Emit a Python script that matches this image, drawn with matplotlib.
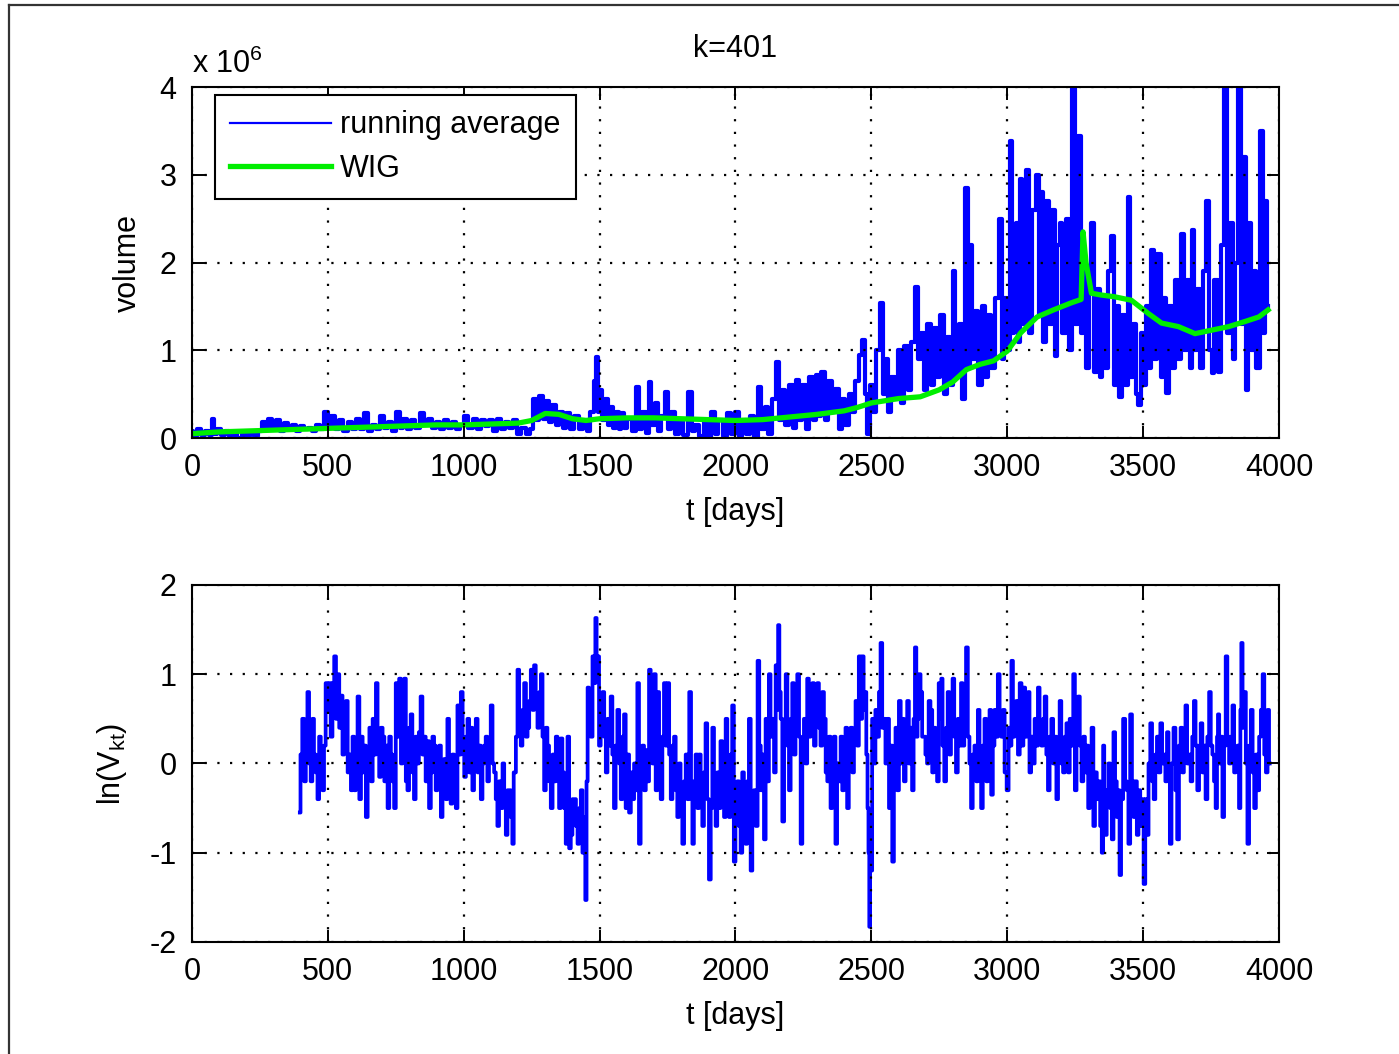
import matplotlib
matplotlib.use('Agg')
import matplotlib.pyplot as plt
from matplotlib.lines import Line2D

plt.rcParams['font.family'] = ['Liberation Sans', 'DejaVu Sans']
plt.rcParams['mathtext.fontset'] = 'custom'
plt.rcParams['mathtext.rm'] = 'Liberation Sans'
plt.rcParams['axes.unicode_minus'] = False

# running average of volume, (day, volume in 1e6)
volume_points = [
    (0, 0.08), (10, 0.02), (25, 0.1), (40, 0.03), (55, 0.08), (70, 0.04), (78, 0.22), (85, 0.05), (100, 0.1),
    (115, 0.03), (130, 0.08), (145, 0.02), (160, 0.06), (175, 0.0), (190, 0.05), (205, 0.02), (220, 0.06),
    (235, 0.02), (250, 0.08), (262, 0.18), (275, 0.1), (288, 0.22), (300, 0.12), (315, 0.2), (330, 0.08),
    (345, 0.17), (360, 0.1), (375, 0.15), (390, 0.08), (405, 0.14), (420, 0.1), (435, 0.12), (450, 0.08),
    (465, 0.15), (480, 0.1), (495, 0.3), (505, 0.12), (520, 0.25), (535, 0.1), (550, 0.2), (565, 0.08),
    (580, 0.18), (595, 0.1), (610, 0.22), (625, 0.1), (640, 0.28), (655, 0.08), (670, 0.15), (685, 0.1),
    (700, 0.25), (715, 0.12), (730, 0.18), (745, 0.08), (760, 0.3), (770, 0.12), (785, 0.22), (800, 0.1),
    (815, 0.2), (830, 0.12), (845, 0.28), (860, 0.15), (875, 0.22), (890, 0.12), (905, 0.18), (920, 0.1),
    (935, 0.2), (950, 0.12), (965, 0.18), (980, 0.1), (995, 0.15), (1010, 0.25), (1025, 0.12), (1040, 0.22),
    (1055, 0.1), (1070, 0.2), (1085, 0.14), (1100, 0.2), (1115, 0.08), (1130, 0.22), (1145, 0.1), (1160, 0.18),
    (1175, 0.12), (1190, 0.2), (1205, 0.05), (1220, 0.12), (1235, 0.05), (1250, 0.1), (1262, 0.45), (1272, 0.2),
    (1285, 0.48), (1295, 0.22), (1308, 0.42), (1320, 0.18), (1333, 0.38), (1345, 0.15), (1358, 0.3), (1370, 0.12),
    (1385, 0.28), (1400, 0.1), (1415, 0.25), (1430, 0.1), (1445, 0.2), (1460, 0.08), (1472, 0.3), (1485, 0.65),
    (1491, 0.92), (1498, 0.3), (1505, 0.55), (1515, 0.2), (1525, 0.45), (1535, 0.15), (1545, 0.35), (1555, 0.12),
    (1565, 0.3), (1575, 0.1), (1585, 0.28), (1595, 0.12), (1610, 0.22), (1625, 0.08), (1641, 0.58), (1650, 0.1),
    (1665, 0.3), (1675, 0.06), (1686, 0.64), (1695, 0.15), (1710, 0.4), (1720, 0.08), (1733, 0.25), (1747, 0.53),
    (1758, 0.1), (1770, 0.3), (1785, 0.05), (1800, 0.2), (1815, 0.03), (1836, 0.53), (1845, 0.08), (1860, 0.15),
    (1875, 0.02), (1890, 0.18), (1905, 0.0), (1917, 0.3), (1930, 0.05), (1945, 0.2), (1960, 0.02), (1975, 0.28),
    (1990, 0.05), (2005, 0.3), (2018, 0.02), (2030, 0.2), (2045, 0.05), (2060, 0.25), (2075, 0.0), (2090, 0.58),
    (2100, 0.1), (2115, 0.35), (2128, 0.05), (2142, 0.45), (2157, 0.87), (2165, 0.2), (2178, 0.55), (2190, 0.15),
    (2205, 0.6), (2218, 0.12), (2230, 0.66), (2240, 0.2), (2252, 0.6), (2265, 0.1), (2278, 0.7), (2290, 0.2),
    (2300, 0.72), (2311, 0.25), (2322, 0.75), (2335, 0.2), (2348, 0.65), (2360, 0.3), (2374, 0.56), (2385, 0.1),
    (2398, 0.45), (2410, 0.15), (2422, 0.5), (2435, 0.3), (2448, 0.65), (2458, 0.95), (2470, 1.12), (2480, 0.5),
    (2490, 0.05), (2500, 0.6), (2512, 0.3), (2525, 1.0), (2539, 1.54), (2548, 0.5), (2558, 0.9), (2568, 0.3),
    (2580, 0.7), (2592, 0.45), (2604, 1.0), (2615, 0.4), (2628, 1.05), (2640, 0.55), (2655, 1.1), (2668, 1.72),
    (2678, 0.9), (2690, 1.2), (2700, 0.55), (2712, 1.3), (2724, 0.6), (2736, 1.25), (2748, 0.7), (2760, 1.4),
    (2772, 0.5), (2784, 1.15), (2796, 0.6), (2803, 1.9), (2815, 0.7), (2828, 1.3), (2840, 0.45), (2852, 2.85),
    (2860, 0.8), (2865, 2.2), (2875, 0.9), (2888, 1.45), (2900, 0.6), (2912, 1.5), (2924, 0.7), (2936, 1.4),
    (2948, 0.8), (2962, 1.6), (2975, 2.5), (2985, 0.9), (2995, 1.6), (3005, 1.0), (3012, 3.38), (3020, 1.2),
    (3030, 2.0), (3037, 2.45), (3045, 1.1), (3052, 2.95), (3060, 1.3), (3075, 3.05), (3085, 1.2), (3098, 2.6),
    (3111, 3.0), (3120, 1.4), (3128, 2.8), (3138, 1.1), (3148, 2.7), (3158, 1.3), (3173, 2.6), (3180, 0.93),
    (3190, 2.2), (3198, 2.45), (3208, 1.2), (3222, 2.5), (3232, 1.0), (3247, 4.0), (3255, 1.3), (3266, 3.44),
    (3275, 1.2), (3285, 2.0), (3295, 0.8), (3305, 1.8), (3315, 2.45), (3325, 0.75), (3335, 1.7), (3345, 0.7),
    (3355, 1.6), (3365, 0.8), (3378, 1.9), (3389, 2.3), (3398, 0.6), (3408, 1.5), (3418, 0.47), (3428, 1.4),
    (3438, 0.6), (3449, 2.75), (3458, 0.7), (3468, 1.3), (3478, 0.5), (3486, 0.38), (3495, 1.2), (3505, 0.6),
    (3515, 1.5), (3525, 0.8), (3536, 2.14), (3545, 0.9), (3560, 2.1), (3570, 0.7), (3580, 1.6), (3590, 0.51),
    (3600, 1.5), (3612, 0.8), (3625, 1.8), (3635, 0.9), (3646, 2.33), (3656, 1.0), (3668, 1.8), (3676, 0.8),
    (3683, 2.37), (3693, 1.0), (3705, 1.7), (3715, 0.8), (3725, 1.9), (3738, 2.7), (3748, 1.0), (3757, 0.74),
    (3768, 1.8), (3781, 0.75), (3792, 2.2), (3806, 4.0), (3815, 1.2), (3825, 2.45), (3835, 0.9), (3845, 2.0),
    (3855, 4.0), (3862, 1.3), (3873, 3.2), (3882, 0.55), (3892, 2.45), (3902, 1.0), (3912, 1.9), (3922, 0.8),
    (3935, 3.5), (3945, 1.2), (3953, 2.7), (3960, 1.5),
]

# WIG index rescaled (day, value in 1e6)
wig_points = [
    (0, 0.05), (100, 0.07), (200, 0.08), (300, 0.09), (400, 0.1), (500, 0.11), (600, 0.12), (700, 0.13),
    (800, 0.14), (900, 0.15), (1000, 0.15), (1100, 0.16), (1200, 0.17), (1250, 0.2), (1300, 0.28), (1350, 0.27),
    (1400, 0.22), (1450, 0.2), (1500, 0.22), (1600, 0.23), (1700, 0.23), (1800, 0.22), (1900, 0.21), (2000, 0.2),
    (2100, 0.21), (2200, 0.24), (2300, 0.27), (2400, 0.31), (2450, 0.35), (2500, 0.4), (2600, 0.45), (2680, 0.47),
    (2750, 0.55), (2800, 0.64), (2850, 0.78), (2900, 0.84), (2950, 0.88), (3000, 0.99), (3050, 1.2),
    (3110, 1.38), (3170, 1.46), (3235, 1.54), (3272, 1.58), (3279, 2.35), (3290, 2.0), (3310, 1.65),
    (3346, 1.63), (3395, 1.61), (3457, 1.57), (3519, 1.42), (3568, 1.31), (3630, 1.27), (3691, 1.19),
    (3753, 1.23), (3815, 1.27), (3877, 1.33), (3926, 1.38), (3960, 1.46),
]

# ln(V_kt), (day, value)
ln_points = [
    (397, -0.55), (402, 0.1), (410, 0.5), (416, -0.2), (422, 0.3), (428, 0.8), (434, 0.0), (440, -0.2), (446, 0.5),
    (452, 0.1), (459, -0.1), (465, -0.4), (471, 0.3), (477, -0.1), (483, -0.3), (489, 0.2), (495, 0.9), (501, 0.6),
    (507, 0.9), (514, 0.3), (520, 0.9), (527, 1.2), (533, 0.5), (539, 1.0), (545, 0.4), (551, 0.76), (557, 0.1),
    (563, 0.5), (570, 0.7), (576, -0.1), (582, 0.1), (588, -0.3), (594, 0.3), (600, -0.3), (606, 0.2), (613, 0.75),
    (619, -0.4), (625, 0.3), (631, -0.1), (637, 0.2), (643, -0.6), (650, 0.0), (656, 0.4), (662, -0.2), (668, 0.5),
    (674, 0.1), (680, 0.9), (686, 0.2), (692, -0.15), (698, 0.4), (705, 0.3), (711, -0.2), (717, 0.2), (723, -0.5),
    (729, 0.3), (735, 0.1), (741, -0.2), (747, -0.5), (753, 0.9), (759, 0.3), (766, 0.95), (772, 0.0), (778, 0.6),
    (784, 0.95), (790, -0.2), (796, -0.3), (802, 0.4), (808, 0.55), (814, -0.1), (820, -0.4), (826, 0.3), (832, 0.0),
    (838, 0.35), (845, 0.75), (851, 0.1), (857, 0.3), (863, -0.2), (869, 0.25), (876, -0.5), (882, -0.1), (888, 0.3),
    (894, 0.2), (900, -0.3), (907, -0.1), (913, 0.2), (919, -0.6), (925, -0.1), (931, 0.05), (937, -0.4), (943, 0.5),
    (949, -0.1), (955, -0.45), (961, 0.1), (968, -0.3), (974, -0.5), (980, 0.65), (986, 0.1), (993, 0.8), (999, 0.2),
    (1005, -0.15), (1011, 0.3), (1017, 0.5), (1023, -0.1), (1029, 0.4), (1035, -0.3), (1041, 0.2), (1048, 0.5),
    (1054, -0.1), (1060, 0.2), (1066, -0.4), (1072, 0.0), (1078, 0.2), (1084, 0.3), (1090, -0.2), (1096, 0.1),
    (1103, 0.65), (1109, 0.0), (1115, -0.1), (1121, -0.4), (1127, -0.7), (1133, -0.2), (1140, -0.5), (1146, 0.0),
    (1152, -0.4), (1158, -0.8), (1164, -0.3), (1170, -0.3), (1176, -0.6), (1182, -0.9), (1186, -0.1), (1189, -0.1),
    (1195, 0.3), (1201, 1.05), (1207, 0.5), (1213, 0.2), (1219, 0.6), (1226, 0.9), (1232, 0.3), (1238, 0.4),
    (1244, 0.7), (1250, 1.05), (1256, 0.6), (1262, 1.1), (1268, 0.7), (1275, 0.4), (1281, 0.8), (1287, 1.0),
    (1293, 0.3), (1299, -0.3), (1305, 0.4), (1311, 0.2), (1317, -0.2), (1324, -0.5), (1330, 0.1), (1336, -0.2),
    (1342, 0.3), (1348, -0.1), (1354, -0.5), (1360, 0.28), (1366, -0.1), (1372, -0.5), (1379, -0.9), (1385, 0.3),
    (1391, -0.95), (1397, -0.8), (1403, -0.4), (1410, -0.4), (1416, -0.7), (1422, -0.9), (1428, -0.5), (1434, -0.3),
    (1440, -1.0), (1445, -0.6), (1450, -1.53), (1454, -0.2), (1458, 0.85), (1464, 0.5), (1471, 0.3), (1477, 1.2),
    (1482, 0.9), (1487, 1.63), (1491, 1.1), (1495, 1.2), (1501, 0.2), (1507, 0.6), (1514, 0.8), (1520, 0.3),
    (1526, -0.1), (1532, 0.5), (1538, 0.2), (1544, 0.75), (1550, 0.1), (1556, -0.5), (1562, 0.2), (1569, 0.6),
    (1575, 0.0), (1581, -0.4), (1587, 0.3), (1593, 0.55), (1599, -0.5), (1605, 0.1), (1612, -0.55), (1618, -0.1),
    (1624, -0.4), (1630, 0.0), (1636, -0.3), (1642, 0.9), (1648, -0.9), (1654, -0.2), (1660, 0.2), (1667, -0.3),
    (1673, 0.15), (1679, -0.2), (1685, 1.05), (1691, 0.2), (1697, 0.0), (1703, 1.0), (1710, -0.3), (1716, 0.8),
    (1722, 0.0), (1728, -0.4), (1734, 0.3), (1740, 0.9), (1746, 0.2), (1753, 0.9), (1759, 0.1), (1765, -0.4),
    (1771, 0.2), (1777, 0.3), (1783, -0.3), (1789, -0.6), (1795, 0.0), (1801, -0.5), (1808, -0.9), (1814, -0.2),
    (1820, 0.1), (1826, -0.4), (1834, 0.8), (1839, -0.3), (1844, -0.9), (1850, -0.2), (1857, 0.1), (1863, -0.5),
    (1869, 0.1), (1875, -0.4), (1881, -0.7), (1887, -0.1), (1893, 0.45), (1899, -0.4), (1906, -1.3), (1912, -0.5),
    (1918, 0.4), (1924, -0.2), (1930, -0.7), (1936, -0.1), (1942, -0.5), (1948, 0.25), (1955, -0.3), (1961, -0.6),
    (1967, 0.5), (1973, -0.2), (1979, -0.6), (1985, 0.1), (1991, 0.65), (1997, -1.1), (2003, -0.4), (2010, -0.2),
    (2016, -0.7), (2022, -1.0), (2028, -0.1), (2034, -0.6), (2040, -0.9), (2046, -0.2), (2053, 0.5), (2059, -1.2),
    (2065, -0.5), (2071, -0.3), (2078, -0.7), (2085, 1.15), (2090, 0.2), (2096, -0.3), (2102, 0.1), (2108, -0.85),
    (2114, 0.5), (2120, -0.2), (2126, 1.0), (2132, 0.3), (2139, 0.5), (2145, -0.1), (2151, 1.1), (2155, 0.6),
    (2159, 1.55), (2164, 0.8), (2169, 0.5), (2176, -0.65), (2182, 0.4), (2188, 1.0), (2194, 0.2), (2200, -0.3),
    (2206, 0.5), (2212, 0.9), (2218, 0.1), (2224, 0.6), (2231, 1.0), (2237, 0.3), (2243, -0.9), (2249, 0.2),
    (2255, 0.5), (2261, 0.0), (2267, 0.95), (2273, 0.3), (2280, 0.6), (2286, 0.9), (2292, 0.2), (2298, 0.5),
    (2304, 0.9), (2310, 0.4), (2316, 0.2), (2322, 0.8), (2329, 0.5), (2335, -0.1), (2341, -0.2), (2347, 0.3),
    (2353, -0.5), (2359, 0.1), (2365, 0.3), (2371, -0.9), (2377, 0.0), (2384, -0.2), (2390, 0.3), (2396, -0.3),
    (2402, 0.15), (2408, 0.4), (2414, -0.5), (2420, 0.0), (2427, 0.4), (2433, -0.1), (2439, 0.3), (2445, 0.7),
    (2451, 0.2), (2457, 1.2), (2463, 0.5), (2469, 1.2), (2474, 0.6), (2479, 0.8), (2484, 0.1), (2488, -0.5),
    (2491, -1.0), (2494, -1.83), (2497, -0.6), (2500, -1.2), (2506, 0.5), (2512, 0.0), (2518, 0.6), (2525, 0.3),
    (2531, 0.8), (2537, 1.35), (2543, 0.4), (2549, 0.5), (2555, 0.0), (2562, 0.5), (2568, -0.5), (2574, 0.2),
    (2580, -1.1), (2586, -0.2), (2592, 0.4), (2598, -0.3), (2605, 0.7), (2611, 0.0), (2617, 0.5), (2623, -0.2),
    (2629, 0.4), (2635, 0.7), (2641, 0.0), (2647, 0.4), (2653, -0.3), (2658, 0.5), (2663, 1.3), (2668, 0.3),
    (2672, 0.5), (2678, 1.0), (2684, 0.8), (2690, 0.3), (2696, 0.3), (2702, 0.1), (2708, 0.0), (2714, 0.7),
    (2721, 0.6), (2727, -0.1), (2733, 0.4), (2739, 0.2), (2745, -0.2), (2751, 0.9), (2756, 0.5), (2759, 0.95),
    (2765, 0.2), (2772, -0.2), (2778, 0.4), (2784, 0.8), (2790, 0.1), (2796, 0.4), (2802, 0.95), (2808, 0.3),
    (2815, -0.1), (2821, 0.5), (2827, 0.2), (2833, 0.9), (2839, 0.2), (2845, 0.7), (2852, 1.3), (2858, 0.3),
    (2864, 0.0), (2870, -0.5), (2876, 0.1), (2883, 0.2), (2889, -0.2), (2895, 0.6), (2901, 0.0), (2907, -0.5),
    (2913, 0.2), (2920, 0.5), (2926, -0.2), (2932, 0.3), (2938, 0.6), (2944, -0.35), (2950, 0.2), (2956, 0.6),
    (2962, 0.3), (2969, 1.0), (2975, 0.4), (2981, 0.3), (2987, 0.6), (2994, -0.1), (3002, -0.3), (3008, 0.4),
    (3013, 0.2), (3018, 1.15), (3024, 0.3), (3030, 0.5), (3036, 0.7), (3043, 0.1), (3049, 0.9), (3056, 0.2),
    (3063, 0.85), (3069, 0.3), (3075, 0.6), (3079, 0.8), (3085, -0.1), (3091, 0.3), (3098, 0.0), (3104, 0.5),
    (3110, 0.2), (3116, 0.85), (3122, 0.3), (3129, 0.2), (3135, 0.5), (3141, 0.75), (3147, 0.1), (3153, -0.3),
    (3159, 0.3), (3166, 0.5), (3172, 0.0), (3178, 0.3), (3184, -0.4), (3190, 0.2), (3196, 0.7), (3202, 0.0),
    (3209, -0.1), (3215, 0.3), (3221, 0.45), (3227, -0.1), (3233, 0.5), (3240, 0.2), (3246, 1.0), (3252, -0.3),
    (3258, 0.3), (3264, 0.75), (3270, 0.2), (3277, -0.2), (3283, 0.3), (3289, -0.1), (3295, 0.2), (3301, -0.5),
    (3307, 0.0), (3314, 0.4), (3320, -0.7), (3326, -0.1), (3333, -0.4), (3339, -0.2), (3345, -0.7), (3351, -1.0),
    (3355, 0.2), (3359, -0.4), (3363, -0.8), (3369, -0.3), (3376, 0.0), (3382, -0.5), (3388, -0.85), (3394, 0.35),
    (3400, -0.2), (3406, -0.6), (3411, -0.3), (3416, -1.25), (3422, -0.4), (3431, 0.5), (3437, -0.2), (3443, -0.3),
    (3449, -0.9), (3456, 0.55), (3462, -0.2), (3468, -0.6), (3474, -0.2), (3480, -0.8), (3486, -0.3), (3493, -0.7),
    (3499, -0.4), (3505, -1.35), (3511, -0.4), (3517, -0.8), (3523, 0.0), (3530, 0.45), (3536, -0.2), (3542, -0.4),
    (3548, 0.1), (3554, 0.3), (3560, -0.1), (3567, 0.45), (3573, 0.0), (3579, 0.1), (3585, -0.2), (3591, 0.35),
    (3596, -0.2), (3601, -0.9), (3608, 0.0), (3616, 0.4), (3622, -0.3), (3629, -0.85), (3635, 0.2), (3641, 0.4),
    (3647, -0.1), (3653, 0.3), (3659, 0.65), (3665, 0.0), (3672, 0.1), (3678, -0.2), (3684, 0.3), (3690, 0.7),
    (3696, 0.2), (3703, -0.3), (3709, 0.2), (3715, 0.45), (3721, -0.1), (3727, 0.2), (3733, -0.4), (3740, 0.3),
    (3746, 0.8), (3752, 0.2), (3758, 0.1), (3764, -0.2), (3770, -0.5), (3774, 0.3), (3777, 0.55), (3783, 0.0),
    (3789, 0.3), (3795, -0.6), (3801, 0.2), (3807, 1.2), (3813, 0.3), (3820, 0.0), (3826, 0.3), (3832, 0.65),
    (3838, -0.1), (3844, 0.15), (3850, 0.2), (3856, -0.5), (3860, 0.6), (3863, 1.35), (3869, 0.4), (3875, 0.8),
    (3881, 0.0), (3887, -0.9), (3893, 0.2), (3900, 0.6), (3906, -0.1), (3912, -0.5), (3918, 0.1), (3924, -0.3),
    (3930, 0.3), (3937, 0.6), (3943, 1.0), (3949, 0.1), (3955, -0.1), (3961, 0.6), (3966, 0.0),
]

t_vol, vol = zip(*volume_points)
t_wig, wig = zip(*wig_points)
t_ln, ln_v = zip(*ln_points)

x_ticks = [0, 500, 1000, 1500, 2000, 2500, 3000, 3500, 4000]

fig = plt.figure(figsize=(13.99, 10.54), dpi=100)

# thin frame around the figure, as in the screenshot
fig.add_artist(Line2D([0.0065, 0.0065], [0, 0.9955], color='#333333', lw=1.6))
fig.add_artist(Line2D([0.0065, 1.0], [0.9955, 0.9955], color='#333333', lw=1.6))


def style(ax):
    ax.set_xlim(0, 4000)
    ax.set_xticks(x_ticks)
    ax.tick_params(direction='in', length=9, width=1.4, top=True, right=True,
                   labelsize=22, pad=11)
    ax.grid(True, linestyle=(0, (1, 4.7)), color='k', lw=1.6)
    ax.set_axisbelow(False)
    for s in ax.spines.values():
        s.set_linewidth(1.5)
    ax.set_xlabel('t [days]', fontsize=22, labelpad=10)


ax1 = fig.add_axes([0.1372, 0.5844, 0.777, 0.333])
# dense daily data looks like a solid band of vertical strokes
ax1.plot(t_vol, vol, color='#0000ff', lw=3.0, drawstyle='steps-mid', label='running average')
ax1.plot(t_wig, wig, color='#00ee00', lw=3.8, label='WIG')
ax1.set_ylim(0, 4)
ax1.set_yticks([0, 1, 2, 3, 4])
style(ax1)
ax1.set_ylabel('volume', fontsize=22)
ax1.yaxis.set_label_coords(-0.045, 0.5)
ax1.set_title('k=401', fontsize=22, pad=22)
leg = ax1.legend(loc='upper left', bbox_to_anchor=(0.021, 0.977), borderaxespad=0,
                 fontsize=22, fancybox=False, framealpha=1, edgecolor='k',
                 handlelength=3.3, labelspacing=0.45, borderpad=0.5, handletextpad=0.3)
leg.get_frame().set_linewidth(1.5)
leg.get_lines()[0].set_linewidth(1.6)
leg.get_lines()[0].set_drawstyle('default')
fig.text(0.137, 0.931, r'x 10$^{\mathregular{6}}$', fontsize=22, ha='left', va='baseline')

ax2 = fig.add_axes([0.1372, 0.1063, 0.777, 0.3387])
ax2.plot(t_ln, ln_v, color='#0000ff', lw=2.7, drawstyle='steps-mid')
ax2.set_ylim(-2, 2)
ax2.set_yticks([-2, -1, 0, 1, 2])
style(ax2)
ax2.set_ylabel(r'ln(V$_{\mathregular{kt}}$)', fontsize=22)
ax2.yaxis.set_label_coords(-0.058, 0.5)

fig.savefig('out.png', dpi=100)
